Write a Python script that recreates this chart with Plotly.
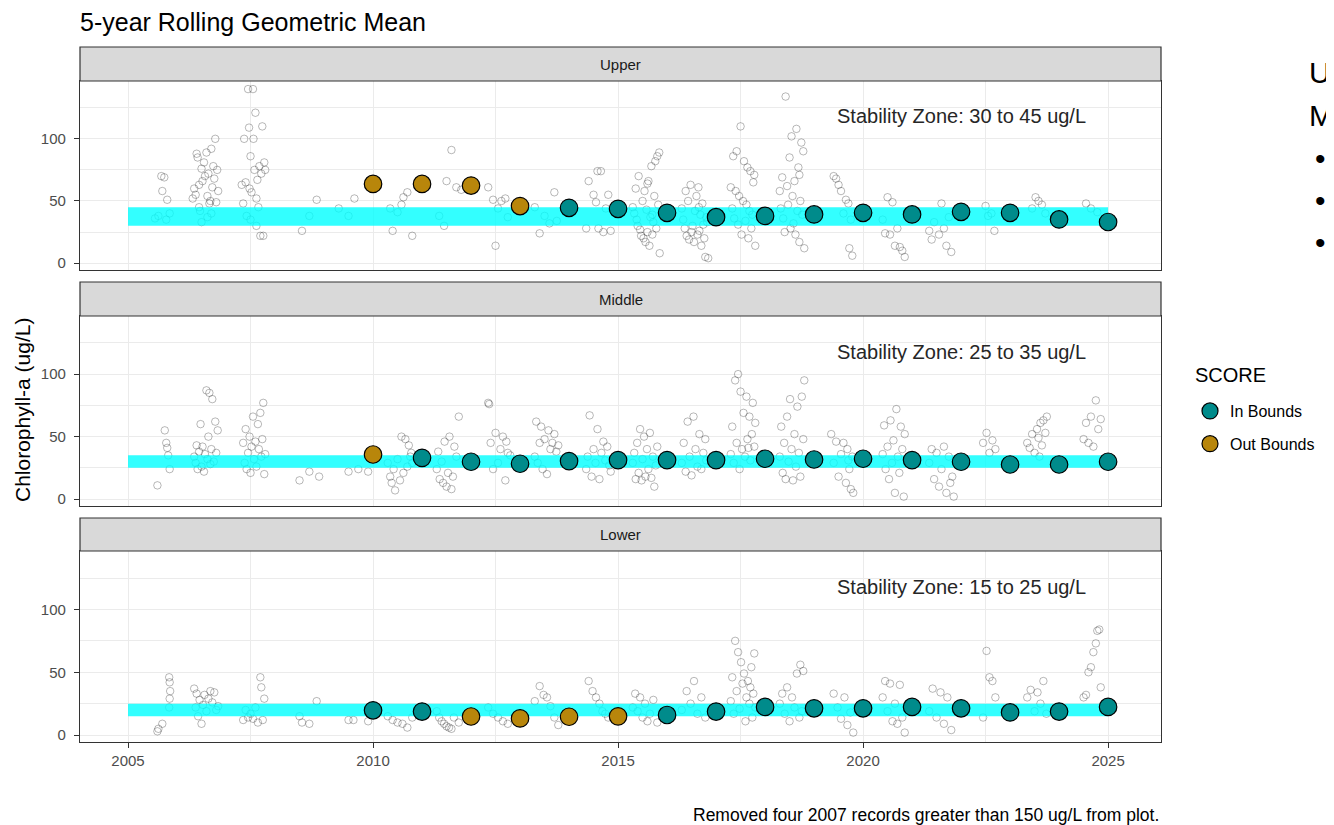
import plotly.graph_objects as go
from plotly.subplots import make_subplots

# ---------------- data ----------------
panels = ["Upper", "Middle", "Lower"]
zones = {"Upper": (30, 45), "Middle": (25, 35), "Lower": (15, 25)}
zone_labels = {"Upper": "Stability Zone: 30 to 45 ug/L",
               "Middle": "Stability Zone: 25 to 35 ug/L",
               "Lower": "Stability Zone: 15 to 25 ug/L"}

rm_years = [2010, 2011, 2012, 2013, 2014, 2015, 2016, 2017, 2018, 2019, 2020, 2021, 2022, 2023, 2024, 2025]
upper_rm = [63.7, 63.7, 62.4, 45.9, 44.5, 43.7, 40.5, 37.0, 38.0, 39.2, 40.5, 39.2, 41.3, 40.5, 35.2, 33.1]
middle_rm = [35.7, 33.0, 29.9, 28.3, 30.4, 31.2, 31.2, 31.2, 32.3, 31.7, 32.3, 31.2, 29.9, 27.7, 27.7, 29.9]
lower_rm = [19.7, 18.7, 14.8, 13.3, 14.6, 14.9, 16.0, 18.7, 22.4, 21.3, 21.3, 22.4, 21.3, 18.0, 18.7, 22.4]
upper_score = ["Out", "Out", "Out", "Out"] + ["In"] * 12
middle_score = ["Out"] + ["In"] * 15
lower_score = ["In", "In", "Out", "Out", "Out", "Out"] + ["In"] * 10

upper_raw = [
    (2005.55, 36), (2005.62, 38), (2005.68, 70), (2005.74, 69), (2005.70, 58), (2005.80, 51), (2005.78, 35), (2005.85, 40),
    (2006.32, 52), (2006.35, 60), (2006.38, 55), (2006.40, 88), (2006.42, 85), (2006.45, 63), (2006.47, 42), (2006.50, 76),
    (2006.52, 66), (2006.55, 81), (2006.57, 70), (2006.60, 89), (2006.62, 54), (2006.64, 72), (2006.66, 48), (2006.68, 50),
    (2006.70, 92), (2006.72, 61), (2006.74, 78), (2006.76, 68), (2006.78, 100), (2006.80, 49), (2006.82, 75), (2006.84, 58),
    (2006.62, 37), (2006.50, 33), (2006.45, 45), (2006.70, 40),
    (2007.32, 63), (2007.35, 48), (2007.37, 100), (2007.40, 65), (2007.42, 38), (2007.45, 140), (2007.47, 109), (2007.48, 60),
    (2007.50, 86), (2007.52, 57), (2007.55, 140), (2007.56, 100), (2007.58, 75), (2007.60, 121), (2007.62, 30), (2007.64, 67),
    (2007.66, 45), (2007.68, 78), (2007.70, 22), (2007.72, 72), (2007.74, 110), (2007.76, 22), (2007.78, 81), (2007.80, 75),
    (2007.62, 52), (2007.50, 35),
    (2008.55, 26), (2008.70, 38), (2008.85, 51), (2009.30, 44), (2009.50, 38), (2009.62, 52), (2009.90, 63),
    (2010.35, 44), (2010.40, 26), (2010.50, 41), (2010.58, 47), (2010.62, 53), (2010.70, 57), (2010.80, 22), (2011.35, 38),
    (2011.45, 30), (2011.50, 66), (2011.60, 91), (2011.70, 61), (2011.80, 59), (2011.90, 62), (2012.35, 61), (2012.45, 51),
    (2012.50, 14), (2012.55, 44), (2012.62, 50), (2012.70, 52), (2012.75, 37), (2012.90, 46),
    (2013.30, 45), (2013.40, 24), (2013.50, 38), (2013.60, 32), (2013.70, 57), (2013.75, 34), (2014.35, 28), (2014.40, 66),
    (2014.50, 55), (2014.55, 49), (2014.58, 74), (2014.65, 74), (2014.60, 28), (2014.70, 25), (2014.75, 44), (2014.80, 55),
    (2014.85, 26),
    (2015.30, 45), (2015.33, 40), (2015.36, 60), (2015.38, 35), (2015.40, 30), (2015.42, 70), (2015.45, 27), (2015.47, 22),
    (2015.50, 50), (2015.52, 20), (2015.54, 58), (2015.56, 17), (2015.58, 43), (2015.60, 25), (2015.62, 66), (2015.64, 14),
    (2015.66, 37), (2015.68, 78), (2015.70, 23), (2015.72, 33), (2015.74, 54), (2015.76, 82), (2015.78, 28), (2015.80, 86),
    (2015.82, 47), (2015.84, 89), (2015.85, 8), (2015.70, 39), (2015.60, 64),
    (2016.30, 44), (2016.33, 35), (2016.36, 28), (2016.38, 58), (2016.40, 22), (2016.43, 50), (2016.45, 19), (2016.48, 63),
    (2016.50, 25), (2016.52, 30), (2016.55, 17), (2016.57, 42), (2016.60, 54), (2016.62, 23), (2016.64, 61), (2016.66, 26),
    (2016.68, 39), (2016.70, 14), (2016.72, 48), (2016.74, 31), (2016.76, 20), (2016.78, 5), (2016.80, 37), (2016.82, 33),
    (2016.84, 4), (2016.65, 45),
    (2017.30, 61), (2017.33, 44), (2017.35, 86), (2017.37, 36), (2017.40, 58), (2017.42, 90), (2017.45, 31), (2017.47, 54),
    (2017.50, 110), (2017.52, 23), (2017.55, 50), (2017.57, 82), (2017.60, 34), (2017.62, 47), (2017.64, 77), (2017.66, 20),
    (2017.68, 42), (2017.70, 74), (2017.72, 28), (2017.74, 39), (2017.76, 65), (2017.78, 71), (2017.80, 14),
    (2018.30, 58), (2018.32, 44), (2018.35, 69), (2018.37, 36), (2018.40, 25), (2018.42, 134), (2018.45, 62), (2018.47, 47),
    (2018.50, 85), (2018.52, 28), (2018.54, 102), (2018.56, 54), (2018.58, 32), (2018.60, 66), (2018.62, 23), (2018.64, 108),
    (2018.66, 42), (2018.68, 77), (2018.70, 17), (2018.72, 50), (2018.74, 97), (2018.76, 39), (2018.78, 90), (2018.80, 12),
    (2018.70, 71),
    (2019.40, 70), (2019.45, 68), (2019.50, 63), (2019.55, 58), (2019.60, 40), (2019.65, 51), (2019.70, 48), (2019.72, 12),
    (2019.75, 35), (2019.78, 6),
    (2020.40, 35), (2020.45, 24), (2020.50, 53), (2020.55, 23), (2020.60, 49), (2020.65, 14), (2020.70, 28), (2020.75, 13),
    (2020.80, 10), (2020.85, 5),
    (2021.35, 26), (2021.40, 19), (2021.45, 33), (2021.55, 23), (2021.60, 48), (2021.65, 28), (2021.70, 14), (2021.75, 37),
    (2021.80, 9),
    (2022.50, 46), (2022.55, 38), (2022.62, 40), (2022.68, 26),
    (2023.45, 44), (2023.52, 53), (2023.58, 50), (2023.65, 47), (2023.72, 40),
    (2024.55, 48), (2024.65, 44), (2024.78, 41),
]

middle_raw = [
    (2005.60, 11), (2005.75, 55), (2005.78, 45), (2005.80, 41), (2005.82, 35), (2005.85, 24),
    (2006.35, 34), (2006.38, 29), (2006.40, 43), (2006.42, 24), (2006.45, 38), (2006.48, 60), (2006.50, 26), (2006.52, 42),
    (2006.55, 22), (2006.57, 36), (2006.60, 87), (2006.62, 32), (2006.64, 50), (2006.66, 85), (2006.68, 28), (2006.70, 40),
    (2006.72, 80), (2006.75, 30), (2006.78, 62), (2006.80, 37), (2006.83, 55),
    (2007.35, 45), (2007.38, 29), (2007.40, 56), (2007.42, 24), (2007.45, 37), (2007.48, 50), (2007.50, 21), (2007.52, 42),
    (2007.55, 66), (2007.57, 32), (2007.60, 46), (2007.62, 26), (2007.65, 60), (2007.67, 40), (2007.70, 69), (2007.72, 34),
    (2007.74, 48), (2007.76, 77), (2007.78, 20), (2007.80, 36),
    (2008.50, 15), (2008.70, 22), (2008.90, 18), (2009.50, 22), (2009.70, 24), (2009.90, 22), (2009.95, 37),
    (2010.30, 29), (2010.35, 18), (2010.38, 13), (2010.42, 24), (2010.45, 7), (2010.50, 32), (2010.55, 15), (2010.58, 50),
    (2010.62, 21), (2010.66, 48), (2010.70, 26), (2010.73, 43), (2010.76, 34), (2010.78, 37), (2010.80, 29),
    (2011.30, 24), (2011.33, 38), (2011.36, 16), (2011.40, 30), (2011.43, 13), (2011.46, 46), (2011.50, 10), (2011.53, 21),
    (2011.56, 50), (2011.60, 8), (2011.63, 18), (2011.66, 42), (2011.70, 34), (2011.75, 66),
    (2012.35, 77), (2012.37, 76), (2012.40, 45), (2012.45, 24), (2012.50, 53), (2012.55, 29), (2012.60, 40), (2012.65, 50),
    (2012.70, 15), (2012.72, 46), (2012.75, 37), (2012.80, 35),
    (2013.30, 34), (2013.33, 62), (2013.36, 29), (2013.40, 45), (2013.43, 58), (2013.46, 24), (2013.50, 48), (2013.55, 20),
    (2013.58, 55), (2013.62, 40), (2013.66, 45), (2013.70, 52), (2013.74, 38), (2013.78, 43),
    (2014.35, 24), (2014.38, 34), (2014.42, 67), (2014.46, 18), (2014.50, 40), (2014.54, 29), (2014.58, 56), (2014.62, 16),
    (2014.66, 37), (2014.70, 46), (2014.74, 31), (2014.78, 42), (2014.82, 27), (2014.85, 22),
    (2015.30, 29), (2015.33, 37), (2015.36, 16), (2015.39, 45), (2015.42, 21), (2015.45, 56), (2015.48, 15), (2015.50, 32),
    (2015.53, 50), (2015.56, 18), (2015.59, 40), (2015.62, 24), (2015.65, 53), (2015.68, 17), (2015.71, 34), (2015.74, 10),
    (2015.77, 27), (2015.80, 42),
    (2016.30, 29), (2016.34, 45), (2016.38, 22), (2016.42, 62), (2016.46, 34), (2016.50, 19), (2016.54, 66), (2016.58, 40),
    (2016.62, 26), (2016.66, 52), (2016.70, 24), (2016.74, 37), (2016.78, 48), (2016.80, 31),
    (2017.30, 36), (2017.33, 58), (2017.36, 29), (2017.39, 95), (2017.42, 45), (2017.45, 100), (2017.48, 24), (2017.50, 86),
    (2017.53, 40), (2017.56, 69), (2017.59, 34), (2017.62, 82), (2017.64, 48), (2017.66, 41), (2017.68, 66), (2017.70, 31),
    (2017.73, 52), (2017.75, 77), (2017.78, 42), (2017.80, 61),
    (2018.30, 34), (2018.33, 58), (2018.36, 21), (2018.39, 45), (2018.42, 16), (2018.45, 66), (2018.48, 30), (2018.51, 80),
    (2018.54, 40), (2018.57, 15), (2018.60, 52), (2018.63, 26), (2018.66, 74), (2018.69, 37), (2018.72, 18), (2018.75, 82),
    (2018.78, 48), (2018.80, 95),
    (2019.35, 52), (2019.40, 29), (2019.45, 46), (2019.50, 18), (2019.55, 36), (2019.60, 45), (2019.65, 13), (2019.68, 40),
    (2019.72, 24), (2019.75, 8), (2019.78, 34), (2019.80, 5), (2019.70, 31),
    (2020.40, 36), (2020.43, 59), (2020.46, 24), (2020.50, 42), (2020.53, 16), (2020.56, 63), (2020.59, 29), (2020.62, 47),
    (2020.65, 5), (2020.68, 72), (2020.71, 34), (2020.74, 21), (2020.77, 58), (2020.80, 40), (2020.83, 2), (2020.85, 52),
    (2021.35, 29), (2021.40, 40), (2021.45, 16), (2021.50, 37), (2021.55, 10), (2021.60, 24), (2021.65, 42), (2021.70, 5),
    (2021.75, 34), (2021.78, 13), (2021.82, 18), (2021.85, 2),
    (2022.45, 45), (2022.52, 53), (2022.58, 37), (2022.64, 47), (2022.70, 40),
    (2023.35, 45), (2023.40, 41), (2023.45, 52), (2023.50, 37), (2023.55, 56), (2023.58, 49), (2023.62, 61), (2023.65, 43),
    (2023.68, 63), (2023.72, 53), (2023.75, 66), (2023.60, 34),
    (2024.50, 48), (2024.55, 61), (2024.60, 45), (2024.65, 66), (2024.70, 42), (2024.75, 79), (2024.80, 56), (2024.85, 64),
]

lower_raw = [
    (2005.60, 3), (2005.62, 5), (2005.70, 9), (2005.84, 46), (2005.85, 42), (2005.86, 35), (2005.85, 29), (2005.84, 22),
    (2006.35, 37), (2006.38, 22), (2006.40, 33), (2006.43, 15), (2006.46, 28), (2006.50, 9), (2006.53, 24), (2006.56, 32),
    (2006.60, 19), (2006.64, 29), (2006.68, 35), (2006.72, 26), (2006.76, 34), (2006.80, 20), (2006.84, 23),
    (2007.35, 12), (2007.40, 20), (2007.45, 14), (2007.50, 17), (2007.55, 13), (2007.60, 22), (2007.65, 10), (2007.70, 46),
    (2007.72, 38), (2007.75, 12), (2007.78, 29),
    (2008.50, 15), (2008.55, 10), (2008.70, 9), (2008.85, 27),
    (2009.50, 12), (2009.60, 12), (2009.90, 11),
    (2010.30, 15), (2010.40, 12), (2010.50, 10), (2010.60, 9), (2010.70, 6), (2010.80, 14),
    (2011.30, 19), (2011.35, 14), (2011.40, 11), (2011.45, 9), (2011.50, 7), (2011.55, 6), (2011.60, 5), (2011.65, 14),
    (2011.75, 10),
    (2012.35, 22), (2012.45, 17), (2012.55, 14), (2012.65, 11), (2012.75, 9),
    (2013.30, 27), (2013.40, 39), (2013.48, 32), (2013.55, 30), (2013.62, 23), (2013.70, 14), (2013.78, 8),
    (2014.40, 43), (2014.48, 35), (2014.55, 30), (2014.62, 25), (2014.68, 19), (2014.74, 17), (2014.80, 14),
    (2015.30, 22), (2015.35, 33), (2015.40, 19), (2015.45, 30), (2015.50, 14), (2015.55, 25), (2015.60, 11), (2015.65, 17),
    (2015.72, 28), (2015.80, 10),
    (2016.30, 20), (2016.40, 35), (2016.48, 25), (2016.55, 43), (2016.62, 17), (2016.70, 30), (2016.78, 14),
    (2017.30, 27), (2017.33, 46), (2017.36, 17), (2017.39, 75), (2017.42, 35), (2017.45, 66), (2017.48, 21), (2017.51, 58),
    (2017.54, 41), (2017.57, 49), (2017.60, 11), (2017.62, 30), (2017.65, 43), (2017.68, 25), (2017.70, 38), (2017.72, 54),
    (2017.74, 14), (2017.76, 33), (2017.78, 65), (2017.80, 22),
    (2018.30, 25), (2018.35, 33), (2018.40, 17), (2018.45, 38), (2018.50, 11), (2018.55, 30), (2018.60, 22), (2018.65, 49),
    (2018.70, 14), (2018.72, 56), (2018.75, 19), (2018.78, 51),
    (2019.40, 33), (2019.48, 22), (2019.55, 13), (2019.62, 30), (2019.68, 8), (2019.74, 18), (2019.80, 2),
    (2020.40, 30), (2020.45, 43), (2020.50, 19), (2020.55, 41), (2020.60, 11), (2020.65, 25), (2020.70, 9), (2020.75, 40),
    (2020.80, 14), (2020.85, 2),
    (2021.35, 19), (2021.42, 37), (2021.50, 14), (2021.58, 34), (2021.65, 9), (2021.72, 30), (2021.80, 4),
    (2022.45, 14), (2022.52, 67), (2022.58, 46), (2022.64, 43), (2022.70, 30),
    (2023.35, 30), (2023.42, 36), (2023.50, 19), (2023.56, 34), (2023.62, 25), (2023.68, 43), (2023.74, 17),
    (2024.50, 30), (2024.55, 32), (2024.60, 50), (2024.65, 54), (2024.70, 66), (2024.75, 73), (2024.78, 83), (2024.82, 84),
    (2024.85, 38),
]

raw = {"Upper": upper_raw, "Middle": middle_raw, "Lower": lower_raw}
rm = {"Upper": upper_rm, "Middle": middle_rm, "Lower": lower_rm}
score = {"Upper": upper_score, "Middle": middle_score, "Lower": lower_score}

x_ticks = [2005, 2010, 2015, 2020, 2025]
y_ticks = [0, 50, 100]
zone_start, zone_end = 2005, 2025

# ---------------- style / layout ----------------
FONT = "Liberation Sans, Arial, sans-serif"
IN_COLOR = "#008B8B"
OUT_COLOR = "#B8860B"
W, H = 1334, 825
OFF = 8  # page body margin: figure pixel = screen pixel - OFF
ML = 80 - OFF
MT = 47 - OFF
MR = W - (1161 - OFF)
MB = H - (742 - OFF)
PH = H - MT - MB
PW = W - ML - MR

def py2paper(py):  # screen y -> paper y
    return (H - MB - (py - OFF)) / PH

def px2paper(px):  # screen x -> paper x
    return ((px - OFF) - ML) / PW

panel_px = {"Upper": (81, 270, 47), "Middle": (316, 506, 282), "Lower": (551, 742, 518)}

fig = make_subplots(rows=3, cols=1, shared_xaxes=True)

for i, p in enumerate(panels, start=1):
    xs = [a for a, b in raw[p]]
    ys = [b for a, b in raw[p]]
    fig.add_trace(go.Scatter(
        x=xs, y=ys, mode="markers", showlegend=False, hoverinfo="skip",
        marker=dict(symbol="circle-open", size=7.5, color="rgba(0,0,0,0.28)", line=dict(width=1))),
        row=i, col=1)
    lo, hi = zones[p]
    fig.add_trace(go.Scatter(
        x=[zone_start, zone_end, zone_end, zone_start, zone_start], y=[lo, lo, hi, hi, lo],
        mode="lines", fill="toself", fillcolor="rgba(0,255,255,0.8)", line=dict(width=0),
        showlegend=False, hoverinfo="skip"), row=i, col=1)
    for lab, col, name in [("In", IN_COLOR, "In Bounds"), ("Out", OUT_COLOR, "Out Bounds")]:
        sx = [y for y, s in zip(rm_years, score[p]) if s == lab]
        sy = [v for v, s in zip(rm[p], score[p]) if s == lab]
        fig.add_trace(go.Scatter(
            x=sx, y=sy, mode="markers", name=name, legendgroup=lab,
            showlegend=(i == 1),
            marker=dict(symbol="circle", size=17.5, color=col, line=dict(color="black", width=1.2))),
            row=i, col=1)

    top, bot, stop = panel_px[p]
    fig.update_yaxes(domain=[py2paper(bot), py2paper(top)], row=i, col=1)
    # facet strip
    fig.add_shape(type="rect", xref="paper", yref="paper", x0=0, x1=1,
                  y0=py2paper(top), y1=py2paper(stop),
                  fillcolor="#D9D9D9", line=dict(color="#333333", width=1.2), layer="above")
    fig.add_annotation(xref="paper", yref="paper", x=0.5, y=(py2paper(top) + py2paper(stop)) / 2,
                       text=p, showarrow=False, font=dict(size=15, color="#1A1A1A", family=FONT),
                       yanchor="middle")
    fig.add_annotation(xref="x" if i == 1 else f"x{i}", yref="y" if i == 1 else f"y{i}",
                       x=2022, y=118, text=zone_labels[p], showarrow=False,
                       font=dict(size=20, color="#262626", family=FONT))

fig.update_xaxes(range=[2004.02, 2026.08], tickvals=x_ticks, showgrid=True, gridcolor="#EBEBEB", gridwidth=1.2,
                 minor=dict(dtick=2.5, tick0=2005, showgrid=True, gridcolor="#EBEBEB", gridwidth=0.6),
                 showline=True, mirror=True, linecolor="#333333", linewidth=1.2, zeroline=False,
                 ticks="", showticklabels=False)
fig.update_xaxes(ticks="outside", ticklen=5, tickcolor="#333333", tickwidth=1.2, showticklabels=True,
                 tickfont=dict(size=15, color="#4D4D4D", family=FONT), row=3, col=1)
fig.update_yaxes(range=[-5.5, 146.5], tickvals=y_ticks, showgrid=True, gridcolor="#EBEBEB", gridwidth=1.2,
                 minor=dict(dtick=25, tick0=0, showgrid=True, gridcolor="#EBEBEB", gridwidth=0.6),
                 showline=True, mirror=True, linecolor="#333333", linewidth=1.2, zeroline=False,
                 ticks="outside", ticklen=5, tickcolor="#333333", tickwidth=1.2, ticklabelstandoff=5,
                 tickfont=dict(size=15, color="#4D4D4D", family=FONT))

# y-axis title
fig.add_annotation(xref="paper", yref="paper", x=px2paper(22), y=py2paper(410),
                   text="Chlorophyll-a (ug/L)", textangle=-90, showarrow=False,
                   font=dict(size=21, color="black", family=FONT), xanchor="center", yanchor="middle")
# caption
fig.add_annotation(xref="paper", yref="paper", x=1, y=py2paper(815),
                   text="Removed four 2007 records greater than 150 ug/L from plot.",
                   showarrow=False, xanchor="right", yanchor="middle", font=dict(size=17.5, color="black", family=FONT))
# legend title
fig.add_annotation(xref="paper", yref="paper", x=px2paper(1193), y=py2paper(375), text="SCORE",
                   showarrow=False, xanchor="left", yanchor="middle", font=dict(size=20, color="black", family=FONT))
# slide text cut off at the right edge of the reference
for txt, pyy in [("U", 72), ("M", 115)]:
    fig.add_annotation(xref="paper", yref="paper", x=px2paper(1307), y=py2paper(pyy), text=txt,
                       showarrow=False, xanchor="left", yanchor="middle",
                       font=dict(size=30, color="black", family=FONT))
for pyy in [158, 200, 242]:
    fig.add_annotation(xref="paper", yref="paper", x=px2paper(1320), y=py2paper(pyy), text="•",
                       showarrow=False, xanchor="center", yanchor="middle",
                       font=dict(size=30, color="black", family=FONT))

fig.update_layout(
    width=W, height=H, margin=dict(l=ML, r=MR, t=MT, b=MB),
    paper_bgcolor="white", plot_bgcolor="white",
    font=dict(family=FONT, color="black"),
    title=dict(text="5-year Rolling Geometric Mean", x=0, xref="paper", xanchor="left",
               y=1 - (22 - OFF) / H, yref="container", yanchor="middle",
               font=dict(size=25, color="black", family=FONT)),
    legend=dict(font=dict(size=16, color="black", family=FONT), x=px2paper(1190), y=py2paper(394),
                xanchor="left", yanchor="top", tracegroupgap=9, bgcolor="rgba(0,0,0,0)"),
    showlegend=True,
)

fig.write_html("out.html")
